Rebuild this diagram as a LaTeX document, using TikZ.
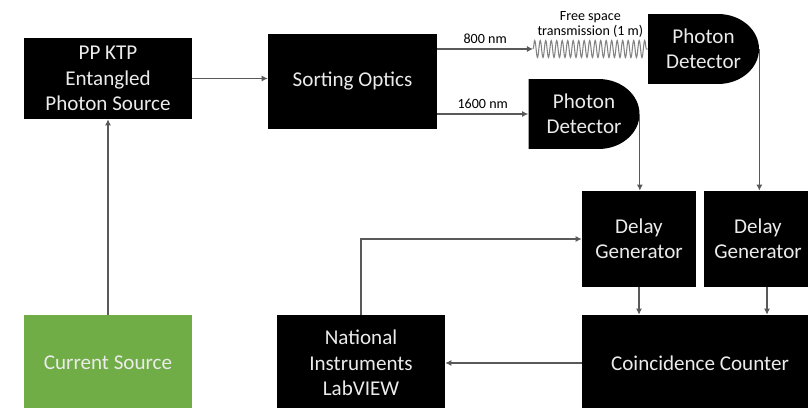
\documentclass[tikz,border=0pt]{standalone}
\usepackage{fontspec}
\setmainfont{Carlito}
\usetikzlibrary{arrows.meta,decorations.pathmorphing}
\definecolor{srcgreen}{HTML}{70AD47}
\definecolor{linegray}{HTML}{595959}

\begin{document}
\begin{tikzpicture}[x=0.02cm,y=-0.02cm,
  box/.style={fill=black,text=white!92!black,align=center,inner sep=0pt,
    font=\fontsize{12}{14.5}\selectfont},
  det/.style={box,fill=none,minimum width=2.22cm,minimum height=1.4cm,
    path picture={\fill (path picture bounding box.south west) -- (path picture bounding box.north west)
      -- ([xshift=-0.82cm]path picture bounding box.north east)
      arc[start angle=90,end angle=-90,x radius=0.82cm,y radius=0.7cm] -- cycle;}},
  arr/.style={draw=linegray,line width=0.6pt,-{Latex[length=3.5pt,width=3.5pt]}},
  lbl/.style={font=\fontsize{8}{9}\selectfont,align=center,inner sep=1pt}]
\useasboundingbox (0,0) rectangle (808,408);
\clip (0,0) rectangle (808,408);
% blocks
\node[box,minimum width=3.36cm,minimum height=1.62cm] (src) at (108,78.5) {PP KTP\\Entangled\\Photon Source};
\node[box,minimum width=3.38cm,minimum height=1.9cm] (sort) at (352.5,81.5) {Sorting Optics};
\node[det] (det1) at (703.5,49) {Photon\\Detector};
\node[det] (det2) at (584,114) {Photon\\Detector};
\node[box,minimum width=2.28cm,minimum height=1.92cm] (dly1) at (639,239) {Delay\\Generator};
\node[box,minimum width=2.16cm,minimum height=1.92cm] (dly2) at (758,239) {Delay\\Generator};
\node[box,minimum width=4.72cm,minimum height=1.92cm] (cc) at (700,363) {Coincidence Counter};
\node[box,minimum width=3.36cm,minimum height=1.92cm] (ni) at (361,363) {National\\Instruments\\LabVIEW};
\node[box,fill=srcgreen,minimum width=3.36cm,minimum height=1.92cm] (cur) at (108,363) {Current Source};
% optical paths
\coordinate (w800) at (533,49);
\draw[arr] (src.east) -- (src.east -| sort.west);
\draw[arr] (cur.north) -- (src.south);
\draw[arr] (sort.east |- w800) -- node[lbl,above=2pt] {800 nm} (w800);
\draw[linegray!75,line width=0.6pt,decorate,decoration={snake,segment length=0.11cm,amplitude=0.17cm}]
  (w800) -- (det1.west |- w800);
\path (w800) -- node[lbl,above=0.18cm] {Free space\\transmission (1 m)} (det1.west |- w800);
\draw[arr] (sort.east |- det2.west) -- node[lbl,above=2pt] {1600 nm} (det2.west);
% electronics
\draw[arr] (det1.east) -- (det1.east |- dly2.north);
\draw[arr] (det2.east) -- (det2.east |- dly1.north);
\draw[arr] (dly1.south) -- (dly1.south |- cc.north);
\draw[arr] ([xshift=0.18cm]dly2.south) -- ([xshift=0.18cm]dly2.south |- cc.north);
\draw[arr] (cc.west |- ni.east) -- (ni.east);
\draw[arr] (ni.north) |- (dly1.west);
\end{tikzpicture}
\end{document}
